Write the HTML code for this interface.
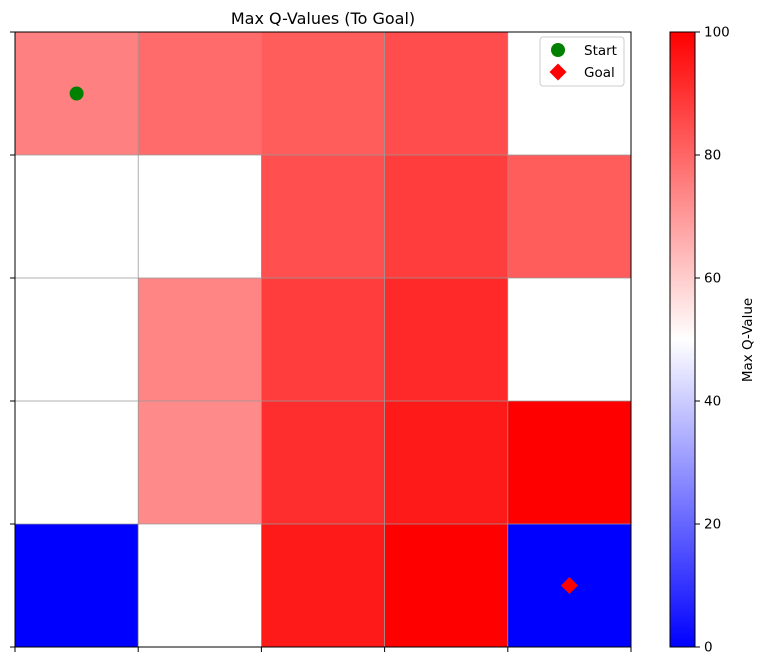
<!DOCTYPE html>
<html><head><meta charset="utf-8"><style>
body{margin:0;background:#fff;font-family:"DejaVu Sans","Liberation Sans",sans-serif}
svg text{font-family:"DejaVu Sans","Liberation Sans",sans-serif}
</style></head><body>
<svg id="chart" width="766" height="666" viewBox="0 0 766 666" xmlns="http://www.w3.org/2000/svg">
<defs>
<linearGradient id="bwr" x1="0" y1="1" x2="0" y2="0">
<stop offset="0" stop-color="#0000ff"/><stop offset="0.5" stop-color="#ffffff"/><stop offset="1" stop-color="#ff0000"/>
</linearGradient>
</defs>
<text x="323" y="24" font-size="16" text-anchor="middle">Max Q-Values (To Goal)</text>
<g id="cells"></g>
<g id="grid"></g>
<rect x="15" y="32" width="616" height="615" fill="none" stroke="#000" stroke-width="1"/>
<g id="ticks"></g>
<circle id="startM" r="7" fill="#008000"/>
<rect id="goalM" width="12" height="12" fill="#ff0000"/>
<g>
<rect x="540" y="37" width="84" height="49" fill="#fff" stroke="#ccc" rx="3"/>
<circle cx="558" cy="50" r="7" fill="#008000"/>
<text x="584" y="55" font-size="13.5">Start</text>
<rect x="552" y="66" width="12" height="12" fill="#ff0000" transform="rotate(45 558 72)"/>
<text x="584" y="77" font-size="13.5">Goal</text>
</g>
<rect x="670" y="32" width="25" height="615" fill="url(#bwr)" stroke="#000" stroke-width="1"/>
<g id="cbticks"></g>
<text transform="translate(752 340) rotate(-90)" font-size="13.5" text-anchor="middle">Max Q-Value</text>
</svg>
<script>
const qValues = [
 [75,79,82,85,50],
 [50,50,84.5,88,82],
 [50,74,88,92,50],
 [50,73,91,95,100],
 [0,50,95,100,0]
];
const cbTickLabels = [0,20,40,60,80,100];
const startCell = [0,0];
const goalCell = [4,4];
const X0=15,Y0=32,W=616,H=615,N=5;
const cw=W/N, ch=H/N;
const xs=c=>X0+c*cw, ys=r=>Y0+r*ch;
function color(v){const t=v/100;let r,g,b;
 if(t<0.5){r=g=Math.round(255*2*t);b=255;}else{r=255;g=b=Math.round(255*2*(1-t));}
 return `rgb(${r},${g},${b})`;}
const NS='http://www.w3.org/2000/svg';
const cells=document.getElementById('cells');
qValues.forEach((row,r)=>row.forEach((v,c)=>{
 const el=document.createElementNS(NS,'rect');
 
 
 el.setAttribute('x',xs(c));el.setAttribute('y',ys(r));
 el.setAttribute('width',cw);el.setAttribute('height',ch);
 el.setAttribute('fill',color(v));cells.appendChild(el);
}));
const grid=document.getElementById('grid'),ticks=document.getElementById('ticks');
for(let i=0;i<=N;i++){
 [[xs(i),Y0,xs(i),Y0+H],[X0,ys(i),X0+W,ys(i)]].forEach(p=>{
  const l=document.createElementNS(NS,'line');
  
  
  l.setAttribute('x1',p[0]);l.setAttribute('y1',p[1]);l.setAttribute('x2',p[2]);l.setAttribute('y2',p[3]);
  l.setAttribute('stroke','#999');l.setAttribute('stroke-width','0.8');grid.appendChild(l);});
 [[xs(i),Y0+H,xs(i),Y0+H+5],[X0-5,ys(i),X0,ys(i)]].forEach(p=>{
  const l=document.createElementNS(NS,'line');
  
  
  l.setAttribute('x1',p[0]);l.setAttribute('y1',p[1]);l.setAttribute('x2',p[2]);l.setAttribute('y2',p[3]);
  l.setAttribute('stroke','#000');ticks.appendChild(l);});
}
const sm=document.getElementById('startM');
sm.setAttribute('cx',xs(startCell[1])+cw/2);sm.setAttribute('cy',ys(startCell[0])+ch/2);
const gm=document.getElementById('goalM');
const gx=xs(goalCell[1])+cw/2,gy=ys(goalCell[0])+ch/2;
gm.setAttribute('x',gx-6);gm.setAttribute('y',gy-6);gm.setAttribute('transform',`rotate(45 ${gx} ${gy})`);
const cbt=document.getElementById('cbticks');
cbTickLabels.forEach(v=>{
 const y=Y0+H-(v/100)*H;
 const l=document.createElementNS(NS,'line');
 
 
 l.setAttribute('x1',695);l.setAttribute('x2',700);l.setAttribute('y1',y);l.setAttribute('y2',y);
 l.setAttribute('stroke','#000');cbt.appendChild(l);
 const t=document.createElementNS(NS,'text');
 
 
 t.setAttribute('x',704);t.setAttribute('y',y+4.5);t.setAttribute('font-size','13.5');
 t.textContent=v;cbt.appendChild(t);
});
</script>
</body></html>
